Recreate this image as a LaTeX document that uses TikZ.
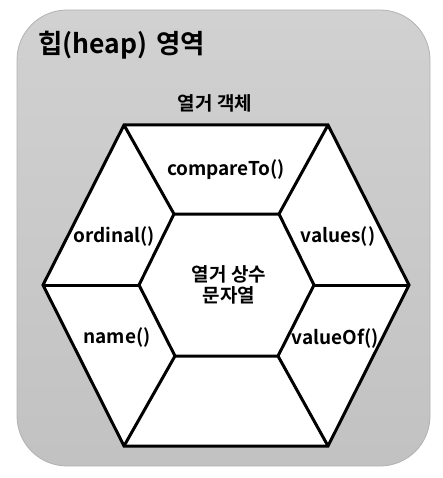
\documentclass[tikz,border=0pt]{standalone}
\usepackage{fontspec}
\setmainfont{Noto Sans CJK KR}[BoldFont={Noto Sans CJK KR Bold}]
\begin{document}
\begin{tikzpicture}[x=1pt,y=-1pt,
  edge/.style={line width=3pt,line join=miter,line cap=butt},
  lbl/.style={font=\bfseries\fontsize{19}{22}\selectfont,inner sep=0pt}]
\useasboundingbox (0,0) rectangle (443,478);
\shade[top color=gray!36,bottom color=gray!48,draw=gray!60,line width=0.8pt,rounded corners=50pt] (17,10) rectangle (430,466);
\node[font=\bfseries\fontsize{26.5}{30}\selectfont,anchor=west,inner sep=0pt] (title) at (38,45) {힙(heap)\,\,영역};
\node[lbl] (obj) at (215,103) {열거 객체};
% outer hexagon
\coordinate (o1) at (124,125);
\coordinate (o2) at (328,125);
\coordinate (o3) at (409,285);
\coordinate (o4) at (328,446);
\coordinate (o5) at (124,446);
\coordinate (o6) at (43,285);
% inner hexagon
\coordinate (i1) at (174,214);
\coordinate (i2) at (279,214);
\coordinate (i3) at (314,285);
\coordinate (i4) at (278,356);
\coordinate (i5) at (175,356);
\coordinate (i6) at (139,285);
\fill[white] (o1) -- (o2) -- (o3) -- (o4) -- (o5) -- (o6) -- cycle;
\draw[edge] (o1) -- (o2) -- (o3) -- (o4) -- (o5) -- (o6) -- cycle;
\draw[edge] (i1) -- (i2) -- (i3) -- (i4) -- (i5) -- (i6) -- cycle;
\draw[edge] (o1) -- (i1);
\draw[edge] (o2) -- (i2);
\draw[edge] (o3) -- (i3);
\draw[edge] (o4) -- (i4);
\draw[edge] (o5) -- (i5);
\draw[edge] (o6) -- (i6);
\node[lbl] (cmp) at (226,170) {compareTo()};
\node[lbl] (ord) at (114,237) {ordinal()};
\node[lbl] (vals) at (338,237) {values()};
\node[lbl] (nm) at (117,338) {name()};
\node[lbl] (vof) at (335,339) {valueOf()};
\node[lbl,align=center,font=\bfseries\fontsize{19}{21}\selectfont] (ctr) at (229,285) {열거 상수\\문자열};
\end{tikzpicture}
\end{document}
